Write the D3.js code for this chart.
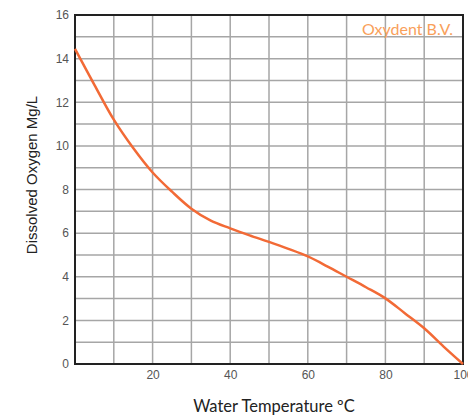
<!DOCTYPE html>
<html><head><meta charset="utf-8">
<script src="https://cdn.jsdelivr.net/npm/d3@7"></script>
<style>body{margin:0;background:#fff;}svg{display:block;}</style>
</head><body>
<svg id="c" width="468" height="417"></svg>
<script>
const temperature = [0,5,10,15,20,25,30,35,40,45,50,55,60,65,70,75,80,85,90,95,100];
const oxygen = [14.45,12.8,11.2,9.9,8.78,7.9,7.12,6.57,6.22,5.9,5.6,5.28,4.93,4.48,4.0,3.52,3.01,2.33,1.64,0.8,0];
const xTicks = [20,40,60,80,100];
const yTicks = [0,2,4,6,8,10,12,14,16];
const xGrid = [10,20,30,40,50,60,70,80,90];
const yGrid = [1,2,3,4,5,6,7,8,9,10,11,12,13,14,15];

const svg = d3.select("#c");
const L=75, R=463, T=15, B=364;
const x = d3.scaleLinear().domain([0,100]).range([L,R]);
const y = d3.scaleLinear().domain([0,16]).range([B,T]);

svg.append("g").selectAll("line").data(xGrid).join("line")
  .attr("x1",d=>x(d)).attr("x2",d=>x(d)).attr("y1",T).attr("y2",B)
  .attr("stroke","#a6a6a6").attr("stroke-width",1.5);
svg.append("g").selectAll("line").data(yGrid).join("line")
  .attr("y1",d=>y(d)).attr("y2",d=>y(d)).attr("x1",L).attr("x2",R)
  .attr("stroke","#a6a6a6").attr("stroke-width",1.5);

svg.append("rect").attr("x",L).attr("y",T).attr("width",R-L).attr("height",B-T)
  .attr("fill","none").attr("stroke","#222").attr("stroke-width",2);

const line = d3.line().x((d,i)=>x(temperature[i])).y(d=>y(d)).curve(d3.curveCatmullRom.alpha(0.5));
svg.append("path").datum(oxygen).attr("d",line).attr("fill","none")
  .attr("stroke","#f26a36").attr("stroke-width",2.5);

const xAxis = svg.append("g").attr("transform",`translate(0,${B})`)
  .call(d3.axisBottom(x).tickValues(xTicks).tickSize(0).tickPadding(6));
const yAxis = svg.append("g").attr("transform",`translate(${L},0)`)
  .call(d3.axisLeft(y).tickValues(yTicks).tickSize(0).tickPadding(6));
[xAxis,yAxis].forEach(a=>{
  a.select(".domain").remove();
  a.selectAll("text").attr("font-family","Liberation Sans, Arial, sans-serif")
    .attr("font-size",12).attr("fill","#555");
});

svg.append("text").attr("transform",`translate(37,175) rotate(-90)`)
  .attr("text-anchor","middle").attr("font-family","Liberation Sans, Arial, sans-serif")
  .attr("font-size",15).attr("fill","#222").text("Dissolved Oxygen Mg/L");
svg.append("text").attr("x",274).attr("y",412)
  .attr("text-anchor","middle").attr("font-family","Lato, sans-serif")
  .attr("font-size",16.5).attr("fill","#222").text("Water Temperature ºC");
svg.append("text").attr("x",453).attr("y",35)
  .attr("text-anchor","end").attr("font-family","Lato, sans-serif")
  .attr("font-size",16).attr("fill","#f9a05a").text("Oxydent B.V.");
</script>
</body></html>
